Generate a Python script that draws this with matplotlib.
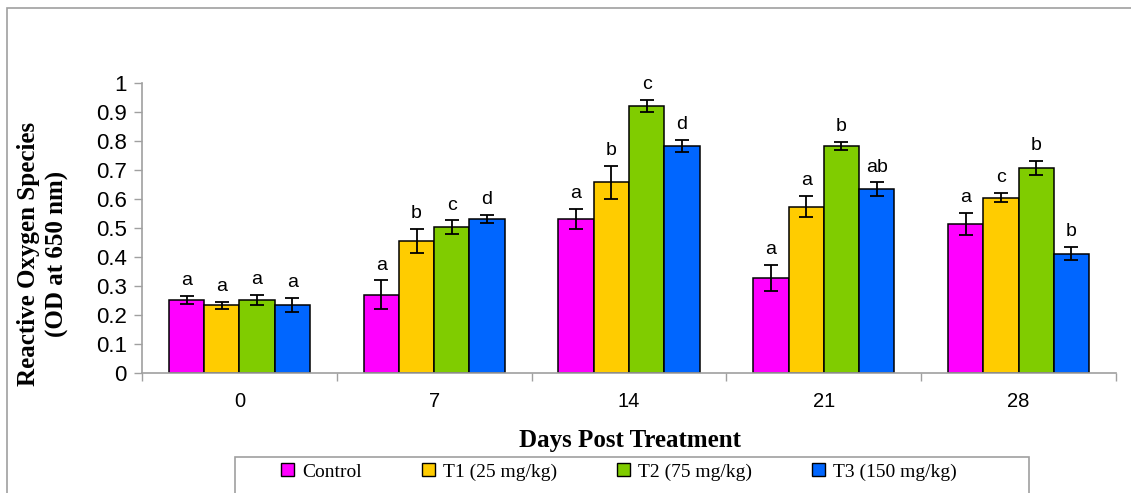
import numpy as np
import matplotlib.pyplot as plt
from matplotlib.patches import Patch, Rectangle

# Mean ROS (OD at 650 nm) and SE per group, by day post treatment
days = ['0', '7', '14', '21', '28']
groups = ['Control', 'T1 (25 mg/kg)', 'T2 (75 mg/kg)', 'T3 (150 mg/kg)']
colors = ['#FF00FF', '#FFCC00', '#80CC00', '#0066FF']

control = [0.252, 0.269, 0.531, 0.329, 0.514]
t1 = [0.234, 0.455, 0.657, 0.573, 0.605]
t2 = [0.252, 0.502, 0.922, 0.783, 0.706]
t3 = [0.234, 0.532, 0.783, 0.633, 0.412]

control_err = [0.013, 0.050, 0.033, 0.045, 0.038]
t1_err = [0.012, 0.042, 0.057, 0.036, 0.015]
t2_err = [0.016, 0.024, 0.021, 0.014, 0.024]
t3_err = [0.024, 0.014, 0.021, 0.024, 0.023]

control_sig = ['a', 'a', 'a', 'a', 'a']
t1_sig = ['a', 'b', 'b', 'a', 'c']
t2_sig = ['a', 'c', 'c', 'b', 'b']
t3_sig = ['a', 'd', 'd', 'ab', 'b']

means = [control, t1, t2, t3]
errs = [control_err, t1_err, t2_err, t3_err]
sigs = [control_sig, t1_sig, t2_sig, t3_sig]

sans = ['Liberation Sans', 'DejaVu Sans']
serif = ['Liberation Serif', 'DejaVu Serif']
grey = '#A0A0A0'

W, H = 1131, 493
fig = plt.figure(figsize=(W / 100, H / 100), dpi=100)
ax = fig.add_axes([142 / W, 1 - 373 / H, (1116 - 142) / W, (373 - 83) / H])

x = np.arange(len(days))
bw = 0.181
for i in range(len(groups)):
    pos = x + (i - 1.5) * bw
    ax.bar(pos, means[i], width=bw, color=colors[i], edgecolor='black',
           linewidth=1.1, zorder=2)
    ax.errorbar(pos, means[i], yerr=errs[i], fmt='none', ecolor='black',
                elinewidth=1.3, capsize=5, capthick=1.3, zorder=3)
    for j in range(len(days)):
        ax.annotate(sigs[i][j], (pos[j], means[i][j] + errs[i][j]),
                    xytext=(0, 5), textcoords='offset points',
                    ha='center', va='bottom', fontsize=14, family=sans)

ax.set_xlim(-0.5, len(days) - 0.5)
ax.set_ylim(0, 1)
ax.set_yticks(np.arange(0, 1.01, 0.1))
ax.set_yticklabels(['0', '0.1', '0.2', '0.3', '0.4', '0.5', '0.6', '0.7',
                    '0.8', '0.9', '1'], family=sans, fontsize=16)
ax.set_xticks(x)
ax.set_xticklabels(days, family=sans, fontsize=14.5)
ax.set_xticks(np.arange(-0.5, len(days)), minor=True)
ax.tick_params(axis='x', which='major', length=0, pad=14)
ax.tick_params(axis='x', which='minor', length=6, color=grey, width=1)
ax.tick_params(axis='y', length=6, color=grey, width=1, pad=5)

for s in ['top', 'right']:
    ax.spines[s].set_visible(False)
for s in ['left', 'bottom']:
    ax.spines[s].set_color(grey)
    ax.spines[s].set_linewidth(1.2)

fig.text(29 / W, 1 - 254 / H, 'Reactive Oxygen Species', rotation=90,
         ha='center', va='center', fontsize=18, fontweight='bold', family=serif)
fig.text(57 / W, 1 - 254 / H, '(OD at 650 nm)', rotation=90,
         ha='center', va='center', fontsize=18, fontweight='bold', family=serif)
fig.text(630 / W, 1 - 440 / H, 'Days Post Treatment', ha='center', va='center',
         fontsize=18, fontweight='bold', family=serif)

# outer chart frame and legend box
fig.patches.append(Rectangle((7 / W, -0.1), 1.2, 1.1 - 8 / H, transform=fig.transFigure,
                             fill=False, edgecolor=grey, linewidth=1.2))
fig.patches.append(Rectangle((235 / W, -0.1), (1029 - 235) / W, 0.1 + 1 - 457 / H,
                             transform=fig.transFigure, fill=False,
                             edgecolor=grey, linewidth=1.2))

handles = [Patch(facecolor=c, edgecolor='black', linewidth=1.0) for c in colors]
fig.legend(handles, groups, loc='center', bbox_to_anchor=(619 / W, 1 - 472 / H),
           ncol=4, frameon=False, handlelength=0.67, handleheight=0.67,
           handletextpad=0.4, columnspacing=3.1,
           prop={'family': serif, 'size': 14})

fig.savefig('out.png', dpi=100)
